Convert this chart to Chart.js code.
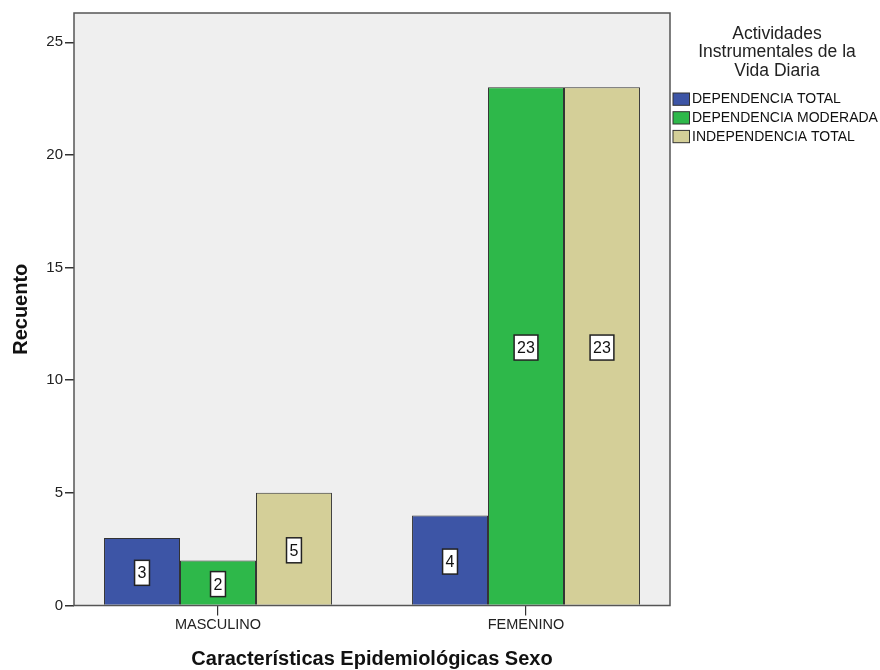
<!DOCTYPE html>
<html>
<head>
<meta charset="utf-8">
<script src="https://cdn.jsdelivr.net/npm/chart.js@4/dist/chart.umd.min.js"></script>
<style>
  html, body { margin: 0; padding: 0; background: #ffffff; }
  #wrap { width: 880px; height: 670px; }
</style>
</head>
<body>
<div id="wrap"><canvas id="chart" width="880" height="670"></canvas></div>
<script>
// Categories on the x axis
const categories = ['MASCULINO', 'FEMENINO'];

// Counts per category for each level of instrumental activities
const dependenciaTotal = [3, 4];
const dependenciaModerada = [2, 23];
const independenciaTotal = [5, 23];

const seriesNames = ['DEPENDENCIA TOTAL', 'DEPENDENCIA MODERADA', 'INDEPENDENCIA TOTAL'];
const seriesColors = ['#3D55A6', '#2EB84A', '#D4CF98'];

const legendTitle = ['Actividades', 'Instrumentales de la', 'Vida Diaria'];
const yTickValues = [0, 5, 10, 15, 20, 25];

const FONT = '"Liberation Sans", Arial, sans-serif';

// Grey panel behind the bars and the dark frame around it
const panelPlugin = {
  id: 'panel',
  beforeDatasetsDraw(chart) {
    const { ctx, chartArea: a } = chart;
    ctx.save();
    ctx.fillStyle = '#EFEFEF';
    ctx.fillRect(a.left, a.top, a.right - a.left, a.bottom - a.top);
    ctx.restore();
  },
  afterDatasetsDraw(chart) {
    const { ctx, chartArea: a } = chart;
    ctx.save();
    ctx.strokeStyle = '#555555';
    ctx.lineWidth = 1.5;
    ctx.strokeRect(a.left, a.top, a.right - a.left, a.bottom - a.top);
    ctx.restore();
  }
};

// Boxed value labels centred in each bar
const valueLabelPlugin = {
  id: 'valueLabels',
  afterDatasetsDraw(chart) {
    const { ctx } = chart;
    ctx.save();
    ctx.font = '16px ' + FONT;
    ctx.textAlign = 'center';
    ctx.textBaseline = 'middle';
    chart.data.datasets.forEach((ds, di) => {
      const meta = chart.getDatasetMeta(di);
      meta.data.forEach((bar, i) => {
        const v = ds.data[i];
        const text = String(v);
        const cx = bar.x;
        const cy = (bar.y + bar.base) / 2 + 1.5;
        const w = ctx.measureText(text).width + 6;
        const h = 25;
        ctx.fillStyle = '#ffffff';
        ctx.fillRect(cx - w / 2, cy - h / 2, w, h);
        ctx.strokeStyle = '#222222';
        ctx.lineWidth = 1.5;
        ctx.strokeRect(cx - w / 2, cy - h / 2, w, h);
        ctx.fillStyle = '#111111';
        ctx.fillText(text, cx, cy + 1);
      });
    });
    ctx.restore();
  }
};

// Legend to the right of the panel, with a three-line centred title
const sideLegendPlugin = {
  id: 'sideLegend',
  afterDraw(chart) {
    const { ctx, chartArea: a } = chart;
    ctx.save();
    const titleX = a.right + 107;
    ctx.font = '17.5px ' + FONT;
    ctx.fillStyle = '#222222';
    ctx.textAlign = 'center';
    ctx.textBaseline = 'middle';
    legendTitle.forEach((line, i) => {
      ctx.fillText(line, titleX, a.top + 21 + i * 18.5);
    });
    ctx.font = '14px ' + FONT;
    ctx.textAlign = 'left';
    chart.data.datasets.forEach((ds, i) => {
      const cy = a.top + 86 + i * 18.7;
      const bx = a.right + 3;
      ctx.fillStyle = ds.backgroundColor;
      ctx.fillRect(bx, cy - 6, 16.5, 12.3);
      ctx.strokeStyle = '#333333';
      ctx.lineWidth = 1;
      ctx.strokeRect(bx, cy - 6, 16.5, 12.3);
      ctx.fillStyle = '#111111';
      ctx.fillText(ds.label, bx + 19, cy + 0.5);
    });
    ctx.restore();
  }
};

const seriesData = [dependenciaTotal, dependenciaModerada, independenciaTotal];

new Chart(document.getElementById('chart'), {
  type: 'bar',
  data: {
    labels: categories.map((_, i) => i),
    datasets: seriesNames.map((name, i) => ({
      label: name,
      data: seriesData[i],
      backgroundColor: seriesColors[i],
      borderColor: '#333333',
      borderWidth: 1,
      categoryPercentage: 0.74,
      barPercentage: 1.0
    }))
  },
  options: {
    responsive: false,
    animation: false,
    devicePixelRatio: 1,
    layout: { padding: { top: 13, right: 210, left: 0, bottom: 0 } },
    plugins: {
      legend: { display: false },
      tooltip: { enabled: false }
    },
    scales: {
      x: {
        type: 'linear',
        offset: false,
        min: -0.4675,
        max: 1.4675,
        afterBuildTicks(scale) {
          scale.ticks = categories.map((_, i) => ({ value: i }));
        },
        afterFit(scale) { scale.height = 64.5; },
        grid: {
          offset: false,
          drawOnChartArea: false,
          drawTicks: true,
          tickLength: 10,
          color: '#333333',
          lineWidth: 1.2
        },
        border: { display: false },
        ticks: {
          padding: 1,
          color: '#222222',
          font: { family: FONT, size: 14.5 },
          callback: (v) => categories[v]
        },
        title: {
          display: true,
          text: 'Características Epidemiológicas Sexo',
          color: '#111111',
          font: { family: FONT, size: 20, weight: 'bold' },
          padding: { top: 0, bottom: -1 }
        }
      },
      y: {
        min: 0,
        max: 26.3,
        afterBuildTicks(scale) {
          scale.ticks = yTickValues.map((v) => ({ value: v }));
        },
        afterFit(scale) { scale.width = 74; },
        grid: {
          drawOnChartArea: false,
          drawTicks: true,
          tickLength: 9,
          color: '#333333',
          lineWidth: 1.5
        },
        border: { display: false },
        ticks: {
          padding: 2,
          color: '#222222',
          font: { family: FONT, size: 15 }
        },
        title: {
          display: true,
          text: 'Recuento',
          color: '#111111',
          font: { family: FONT, size: 20, weight: 'bold' },
          padding: { top: 9, bottom: 0 }
        }
      }
    }
  },
  plugins: [panelPlugin, valueLabelPlugin, sideLegendPlugin]
});
</script>
</body>
</html>
